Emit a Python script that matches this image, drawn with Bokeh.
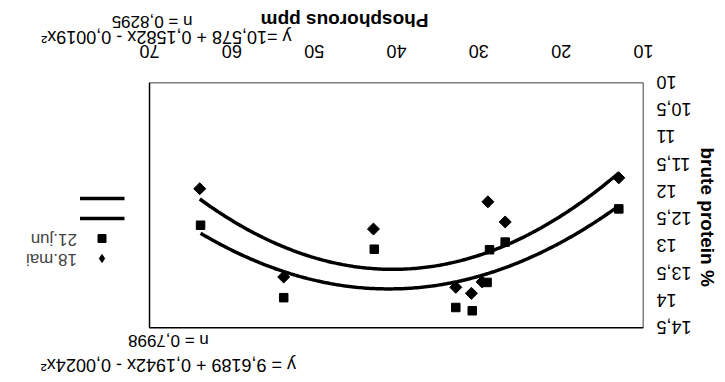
import numpy as np
from bokeh.plotting import figure
from bokeh.models import (Range1d, FixedTicker, CustomJSTickFormatter, Title,
                          Label, Legend, LegendItem, BoxAnnotation)
from bokeh.embed import file_html
from bokeh.resources import INLINE
import math

# ---- data ----
phosphorus = [13.0, 63.9, 26.8, 28.9, 42.8, 53.7, 32.8, 30.9, 29.6]
mai_18 = [11.75, 11.95, 12.56, 12.19, 12.69, 13.57, 13.76, 13.87, 13.66]
phosphorus_jun = [13.0, 63.8, 26.8, 28.7, 42.7, 53.7, 32.8, 30.8, 29.0]
jun_21 = [12.32, 12.62, 12.93, 13.07, 13.06, 13.95, 14.13, 14.19, 13.67]
x_ticks = [10, 20, 30, 40, 50, 60, 70]
y_ticks = [10, 10.5, 11, 11.5, 12, 12.5, 13, 13.5, 14, 14.5]
eq_jun = "y =10,578 + 0,1582x - 0,0019x²"
r_jun = "n = 0,8295"
eq_mai = "y = 9,6189 + 0,1942x - 0,0024x²"
r_mai = "n = 0,7998"
x_title = "Phosphorous  ppm"
y_title = "brute protein %"
series_names = ["18.mai", "21.jun"]

X0, X1 = x_ticks[0], x_ticks[-1]
Y0, Y1 = y_ticks[0], y_ticks[-1]

FONT = "Liberation Sans"

# The scanned original is printed upside down: the whole figure is turned 180°.
# The frame reaches past the plot box (to the legend and the upper equations);
# the plot box itself is drawn as a box annotation on the axis bounds.
p = figure(width=709, height=366, output_backend="svg", toolbar_location=None,
           x_range=Range1d(X0, 86.4), y_range=Range1d(Y0, 15.36),
           min_border_left=75, min_border_right=5, min_border_top=0,
           min_border_bottom=73,
           styles={"transform": "translate(10px, 9px) rotate(180deg)"})
p.grid.visible = False
p.outline_line_color = None
p.background_fill_color = "white"
p.add_layout(BoxAnnotation(left=X0, right=X1, bottom=Y0, top=Y1,
                           fill_alpha=0, line_color="black", line_alpha=1,
                           line_width=1.5))

fmt = CustomJSTickFormatter(code="return tick.toString().replace('.', ',');")
for ax, ticks in ((p.xaxis[0], x_ticks), (p.yaxis[0], y_ticks)):
    ax.ticker = FixedTicker(ticks=ticks)
    ax.bounds = (ticks[0], ticks[-1])
    ax.formatter = fmt
    ax.major_tick_line_color = None
    ax.minor_tick_line_color = None
    ax.major_tick_out = 0
    ax.major_tick_in = 0
    ax.minor_tick_out = 0
    ax.axis_line_color = None
    ax.major_label_text_font = FONT
    ax.major_label_text_font_size = "18px"
    ax.major_label_text_color = "black"
p.xaxis[0].major_label_standoff = 25
p.yaxis[0].major_label_standoff = 13


def trend(xs, ys):
    c = np.polyfit(xs, ys, 2)
    xx = np.linspace(min(xs), max(xs), 200)
    return xx, np.polyval(c, xx)


xm, ym = trend(phosphorus, mai_18)
xj, yj = trend(phosphorus_jun, jun_21)
l1 = p.line(xm, ym, line_color="black", line_width=3.5)
l2 = p.line(xj, yj, line_color="black", line_width=3.5)

s_mai = p.scatter(phosphorus, mai_18, marker="square", angle=math.pi / 4,
                  size=8.5, fill_color="black", line_color="black")
s_jun = p.scatter(phosphorus_jun, jun_21, marker="square", size=8.5,
                  fill_color="black", line_color="black")
# legend key only (no visible point) so that the legend shows a diamond
d_key = p.scatter(x=[np.nan], y=[np.nan], marker="diamond", size=12,
                  fill_color="black", line_color="black")

legend = Legend(items=[LegendItem(label=series_names[0], renderers=[d_key]),
                       LegendItem(label=series_names[1], renderers=[s_jun]),
                       LegendItem(label=" ", renderers=[l1]),
                       LegendItem(label=" ", renderers=[l2])],
                location=(519, 106), padding=0, margin=0, spacing=0,
                glyph_width=45, glyph_height=20, label_height=20,
                label_standoff=3, border_line_color=None,
                background_fill_alpha=0, label_text_font=FONT,
                label_text_font_size="17px")
p.add_layout(legend)

# regression texts above the plot box (inside the frame)
for txt, yy, fs in ((eq_mai, 15.19, "18px"), (r_mai, 14.73, "17px")):
    p.add_layout(Label(x=67.7, y=yy, text=txt, text_align="center",
                       text_baseline="alphabetic", text_font=FONT,
                       text_font_size=fs, text_color="black"))


def title(text, offset, standoff, valign, bold=False, size="17px"):
    return Title(text=text, align="left", offset=offset, standoff=standoff,
                 vertical_align=valign, text_font=FONT, text_font_size=size,
                 text_font_style="bold" if bold else "normal",
                 text_color="black")


# texts below the plot box
p.add_layout(title(eq_jun, 352, -11, "top", size="18px"), "below")
p.add_layout(title(x_title, 215, -1, "top", bold=True, size="19px"), "below")
p.add_layout(title(r_jun, 451, -44, "top"), "below")
# vertical axis title
p.add_layout(title(y_title, 65, 0, "top", bold=True, size="19px"), "left")

open("out.html", "w").write(file_html(p, INLINE))
